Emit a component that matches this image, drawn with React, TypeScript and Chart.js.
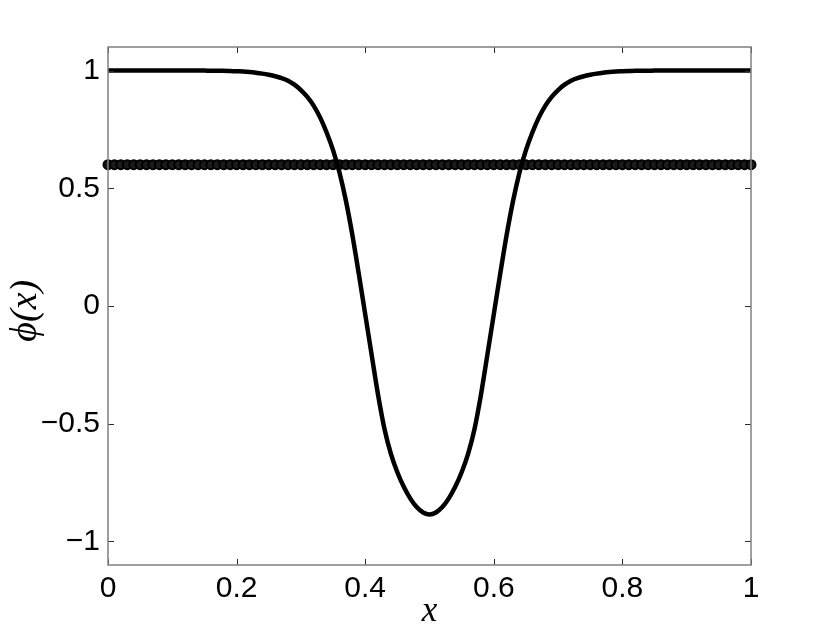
import React, { useEffect, useRef } from "react";
import { Chart, registerables } from "chart.js";

Chart.register(...registerables);

// sample grid shared by the curve and the circle markers
const gridX = [
  0, 0.01, 0.02, 0.03, 0.04, 0.05, 0.06, 0.07, 0.08, 0.09,
  0.1, 0.11, 0.12, 0.13, 0.14, 0.15, 0.16, 0.17, 0.18, 0.19,
  0.2, 0.21, 0.22, 0.23, 0.24, 0.25, 0.26, 0.27, 0.28, 0.29,
  0.3, 0.31, 0.32, 0.33, 0.34, 0.35, 0.36, 0.37, 0.38, 0.39,
  0.4, 0.41, 0.42, 0.43, 0.44, 0.45, 0.46, 0.47, 0.48, 0.49,
  0.5, 0.51, 0.52, 0.53, 0.54, 0.55, 0.56, 0.57, 0.58, 0.59,
  0.6, 0.61, 0.62, 0.63, 0.64, 0.65, 0.66, 0.67, 0.68, 0.69,
  0.7, 0.71, 0.72, 0.73, 0.74, 0.75, 0.76, 0.77, 0.78, 0.79,
  0.8, 0.81, 0.82, 0.83, 0.84, 0.85, 0.86, 0.87, 0.88, 0.89,
  0.9, 0.91, 0.92, 0.93, 0.94, 0.95, 0.96, 0.97, 0.98, 0.99, 1,
];

// phi(x) curve
const curveY = [
  1.0, 1.0, 1.0, 1.0, 1.0, 1.0, 1.0, 1.0, 1.0, 1.0,
  1.0, 1.0, 1.0, 1.0, 1.0, 1.0, 0.999, 0.999, 0.999, 0.998,
  0.997, 0.996, 0.994, 0.991, 0.987, 0.982, 0.976, 0.968, 0.957, 0.94,
  0.917, 0.888, 0.85, 0.8, 0.737, 0.662, 0.567, 0.447, 0.302, 0.137,
  -0.035, -0.207, -0.377, -0.522, -0.628, -0.706, -0.768, -0.817, -0.854, -0.877,
  -0.886, -0.877, -0.854, -0.817, -0.768, -0.706, -0.628, -0.522, -0.377, -0.207,
  -0.035, 0.137, 0.302, 0.447, 0.567, 0.662, 0.737, 0.8, 0.85, 0.888,
  0.917, 0.94, 0.957, 0.968, 0.976, 0.982, 0.987, 0.991, 0.994, 0.996,
  0.997, 0.998, 0.999, 0.999, 0.999, 1.0, 1.0, 1.0, 1.0, 1.0,
  1.0, 1.0, 1.0, 1.0, 1.0, 1.0, 1.0, 1.0, 1.0, 1.0, 1.0,
];

// circle-marker series
const markerY = [
  0.6, 0.6, 0.6, 0.6, 0.6, 0.6, 0.6, 0.6, 0.6, 0.6,
  0.6, 0.6, 0.6, 0.6, 0.6, 0.6, 0.6, 0.6, 0.6, 0.6,
  0.6, 0.6, 0.6, 0.6, 0.6, 0.6, 0.6, 0.6, 0.6, 0.6,
  0.6, 0.6, 0.6, 0.6, 0.6, 0.6, 0.6, 0.6, 0.6, 0.6,
  0.6, 0.6, 0.6, 0.6, 0.6, 0.6, 0.6, 0.6, 0.6, 0.6,
  0.6, 0.6, 0.6, 0.6, 0.6, 0.6, 0.6, 0.6, 0.6, 0.6,
  0.6, 0.6, 0.6, 0.6, 0.6, 0.6, 0.6, 0.6, 0.6, 0.6,
  0.6, 0.6, 0.6, 0.6, 0.6, 0.6, 0.6, 0.6, 0.6, 0.6,
  0.6, 0.6, 0.6, 0.6, 0.6, 0.6, 0.6, 0.6, 0.6, 0.6,
  0.6, 0.6, 0.6, 0.6, 0.6, 0.6, 0.6, 0.6, 0.6, 0.6, 0.6,
];

const xTicks = [0, 0.2, 0.4, 0.6, 0.8, 1];
const yTicks = [-1, -0.5, 0, 0.5, 1];

const xTitle = "x";
const yTitle = "ϕ(x) ";

const fmt = (v: number) => String(v).replace("-", "\u2212");

const axesBox = {
  id: "axesBox",
  afterDatasetsDraw(chart: any) {
    const { ctx, chartArea: a, scales } = chart;
    const x = scales.x;
    const y = scales.y;
    ctx.save();
    ctx.strokeStyle = "#2a2a2a";
    ctx.lineWidth = 1;
    const tl = 6;
    ctx.beginPath();
    for (const v of xTicks) {
      const px = Math.round(x.getPixelForValue(v)) + 0.5;
      ctx.moveTo(px, a.bottom);
      ctx.lineTo(px, a.bottom - tl);
      ctx.moveTo(px, a.top);
      ctx.lineTo(px, a.top + tl);
    }
    for (const v of yTicks) {
      const py = Math.round(y.getPixelForValue(v)) + 0.5;
      ctx.moveTo(a.left, py);
      ctx.lineTo(a.left + tl, py);
      ctx.moveTo(a.right, py);
      ctx.lineTo(a.right - tl, py);
    }
    ctx.stroke();
    ctx.strokeStyle = "#808080";
    ctx.lineWidth = 1.5;
    ctx.strokeRect(a.left, a.top, a.right - a.left, a.bottom - a.top);
    ctx.restore();
  },
};

export default function App() {
  const ref = useRef<HTMLCanvasElement | null>(null);

  useEffect(() => {
    if (!ref.current) return;
    const chart = new Chart(ref.current, {
      type: "line",
      data: {
        datasets: [
          {
            label: "phi",
            data: gridX.map((xv, i) => ({ x: xv, y: curveY[i] })),
            borderColor: "#000",
            borderWidth: 4.5,
            pointRadius: 0,
            cubicInterpolationMode: "monotone",
            fill: false,
          },
          {
            label: "markers",
            data: gridX.map((xv, i) => ({ x: xv, y: markerY[i] })),
            showLine: false,
            borderColor: "#000",
            backgroundColor: "#1a1a1a",
            borderWidth: 2,
            pointStyle: "circle",
            pointRadius: 4.5,
            pointBorderWidth: 2,
            pointBorderColor: "#000",
            pointBackgroundColor: "#1a1a1a",
            clip: false,
          } as any,
        ],
      },
      options: {
        responsive: false,
        animation: false,
        devicePixelRatio: 1,
        layout: { padding: { left: 0, right: 79, top: 47, bottom: 0 } },
        plugins: { legend: { display: false }, tooltip: { enabled: false } },
        scales: {
          x: {
            type: "linear",
            min: 0,
            max: 1,
            grid: { display: false, drawTicks: false },
            border: { display: false },
            afterBuildTicks: (s: any) => {
              s.ticks = xTicks.map((v) => ({ value: v }));
            },
            afterFit: (s: any) => {
              s.height = 71;
            },
            ticks: {
              padding: 6,
              color: "#000",
              maxRotation: 0,
              autoSkip: false,
              font: { family: "'Liberation Sans', Arial, sans-serif", size: 30 },
              callback: (v: any) => fmt(Number(v)),
            },
            title: {
              display: true,
              text: xTitle,
              color: "#000",
              padding: { top: 0, bottom: 3 },
              font: { family: "'Liberation Serif', 'DejaVu Serif', serif", size: 35, style: "italic" },
            },
          },
          y: {
            type: "linear",
            min: -1.1,
            max: 1.1,
            grid: { display: false, drawTicks: false },
            border: { display: false },
            afterBuildTicks: (s: any) => {
              s.ticks = yTicks.map((v) => ({ value: v }));
            },
            afterFit: (s: any) => {
              s.width = 108;
            },
            ticks: {
              padding: 8,
              color: "#000",
              autoSkip: false,
              font: { family: "'Liberation Sans', Arial, sans-serif", size: 30 },
              callback: (v: any) => fmt(Number(v)),
            },
            title: {
              display: true,
              text: yTitle,
              color: "#000",
              padding: { top: 3, bottom: 0 },
              font: { family: "'Liberation Serif', 'DejaVu Serif', serif", size: 38, style: "italic" },
            },
          },
        },
      },
      plugins: [axesBox],
    } as any);
    return () => chart.destroy();
  }, []);

  return (
    <div style={{ position: "absolute", left: 0, top: 0, width: 830, height: 636, background: "#fff" }}>
      <canvas ref={ref} width={830} height={636} style={{ display: "block" }} />
    </div>
  );
}
